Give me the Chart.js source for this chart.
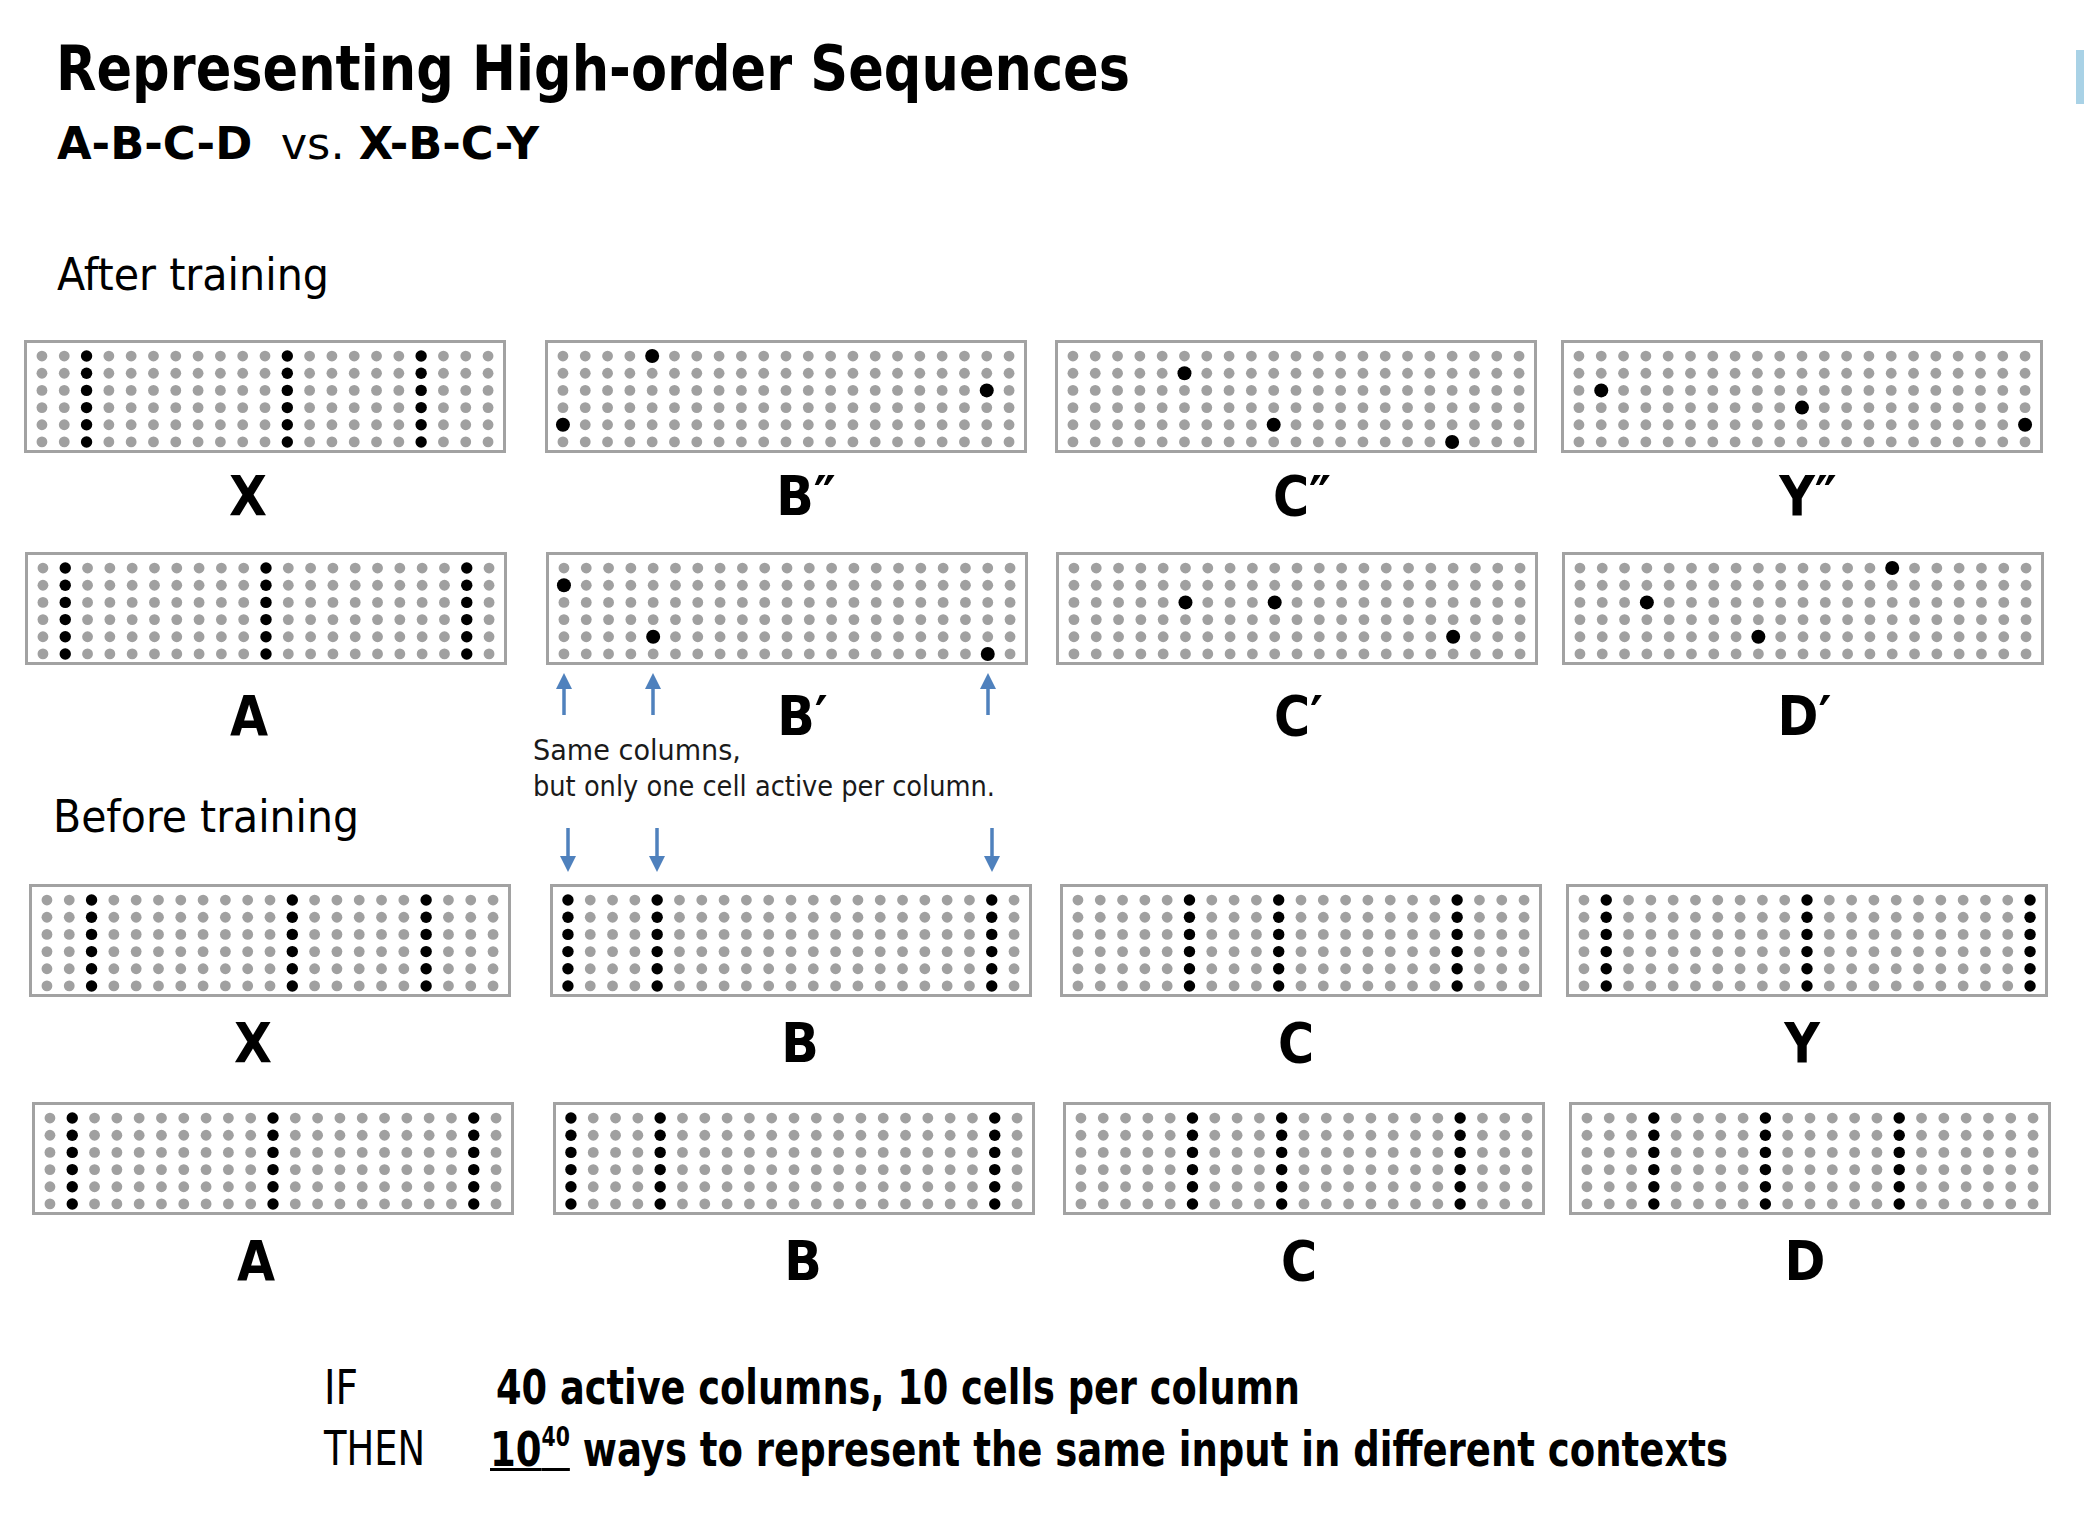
<!DOCTYPE html>
<html>
<head>
<meta charset="utf-8">
<title>Representing High-order Sequences</title>
<script src="https://cdn.jsdelivr.net/npm/chart.js@4.4.1/dist/chart.umd.min.js"></script>
<style>
  html, body { margin: 0; padding: 0; background: #fff; }
  body { position: relative; width: 2084px; height: 1534px; overflow: hidden; font-family: 'DejaVu Sans', Verdana, sans-serif; color: #000; }
  .txt { position: absolute; white-space: nowrap; line-height: 1; transform-origin: 0 0; }
  .panel { position: absolute; box-sizing: border-box; border: 3px solid #a2a2a2; background: #fff; }
  .panel canvas { display: block; }
  .label { position: absolute; font-weight: bold; font-size: 56px; line-height: 1; transform-origin: 50% 0; transform: translateX(-50%) scaleX(0.88); }
  .label .prime { position: absolute; left: 100%; top: 0; }
  .arrow { position: absolute; }
  .edge { position: absolute; left: 2076px; top: 50px; width: 8px; height: 54px; background: #a9d2e6; }
</style>
</head>
<body>
<div class="edge"></div>
<script>
// every panel is a grid of 21 columns x 6 cells
const COLUMNS = 21;
const CELLS = 6;

// active columns of each input
const colsA = [1, 10, 19];
const colsB = [0, 4, 19];
const colsC = [5, 9, 17];
const colsD = [3, 8, 14];
const colsX = [2, 11, 17];
const colsY = [1, 10, 20];

// after training: which cell (row) is active in each active column
const cellsB2 = [4, 0, 2];   // B″
const cellsC2 = [1, 4, 5];   // C″
const cellsY2 = [2, 3, 4];   // Y″
const cellsB1 = [1, 4, 5];   // B′
const cellsC1 = [2, 2, 4];   // C′
const cellsD1 = [2, 4, 0];   // D′

// panel rows top to bottom: [letter, primes, columns, cells] (null cells = whole column active)
const rowAfterX = [['X', '', colsX, null], ['B', '″', colsB, cellsB2], ['C', '″', colsC, cellsC2], ['Y', '″', colsY, cellsY2]];
const rowAfterA = [['A', '', colsA, null], ['B', '′', colsB, cellsB1], ['C', '′', colsC, cellsC1], ['D', '′', colsD, cellsD1]];
const rowBeforeX = [['X', '', colsX, null], ['B', '', colsB, null], ['C', '', colsC, null], ['Y', '', colsY, null]];
const rowBeforeA = [['A', '', colsA, null], ['B', '', colsB, null], ['C', '', colsC, null], ['D', '', colsD, null]];

// layout
const PANEL_W = 482, PANEL_H = 113, BORDER = 3;
const rowTop = [340, 552, 884, 1102];
const rowLeft = [24, 25, 29, 32];
const colShift = [0, 521, 1031, 1537];
const labelBase = [515, 735, 1062, 1280];
const labelShift = [-17, 9, -5, -5];

const addText = (html, left, baseline, size, weight, width) => {
    const el = document.createElement('div');
    el.className = 'txt';
    el.innerHTML = html;
    el.style.fontSize = size + 'px';
    el.style.fontWeight = weight;
    el.style.left = left + 'px';
    el.style.top = (baseline - 0.846 * size) + 'px';
    document.body.appendChild(el);
    if (width) {
        const w = el.getBoundingClientRect().width;
        el.style.transform = `scaleX(${width / w})`;
    }
    return el;
}

const cellData = (cols, cells) => {
    const active = [];
    const grey = [];
    cols.forEach((c, i) => {
        if (cells) active.push({ x: c, y: cells[i] });
        else for (let r = 0; r < CELLS; r++) active.push({ x: c, y: r });
    });
    for (let c = 0; c < COLUMNS; c++) {
        for (let r = 0; r < CELLS; r++) {
            if (!active.some(p => p.x === c && p.y === r)) grey.push({ x: c, y: r });
        }
    }
    return { active, grey };
}

const addPanel = (left, top, cols, cells) => {
    const box = document.createElement('div');
    box.className = 'panel';
    box.style.left = left + 'px';
    box.style.top = top + 'px';
    box.style.width = PANEL_W + 'px';
    box.style.height = PANEL_H + 'px';
    const canvas = document.createElement('canvas');
    canvas.width = PANEL_W - 2 * BORDER;
    canvas.height = PANEL_H - 2 * BORDER;
    box.appendChild(canvas);
    document.body.appendChild(box);

    const { active, grey } = cellData(cols, cells);

    return new Chart(canvas.getContext('2d'), {
        type: 'scatter',
        data: {
            datasets: [{
                data: grey,
                backgroundColor: '#a0a0a0',
                borderWidth: 0,
                pointRadius: 5.4,
            }, {
                data: active,
                backgroundColor: '#000',
                borderWidth: 0,
                pointRadius: cells ? 7 : 5.7,
            }]
        },
        options: {
            responsive: false,
            animation: false,
            events: [],
            layout: { padding: 0, autoPadding: false },
            plugins: { legend: { display: false }, tooltip: { enabled: false } },
            scales: {
                x: { type: 'linear', min: -0.67, max: COLUMNS - 1 + 0.67, display: false },
                y: { type: 'linear', min: -0.76, max: CELLS - 1 + 0.47, reverse: true, display: false }
            }
        }
    });
}

const addLabel = (center, baseline, letter, primes) => {
    const el = document.createElement('div');
    el.className = 'label';
    el.style.left = center + 'px';
    el.style.top = (baseline - 0.846 * 56) + 'px';
    el.innerHTML = `${letter}<span class="prime">${primes}</span>`;
    document.body.appendChild(el);
}

const addArrow = (x, top, height, up) => {
    const head = up
        ? `<polygon points="2,16 18,16 10,0" fill="#4f81bd"/><line x1="10" y1="14" x2="10" y2="${height}" stroke="#4f81bd" stroke-width="3.5"/>`
        : `<polygon points="2,${height - 16} 18,${height - 16} 10,${height}" fill="#4f81bd"/><line x1="10" y1="0" x2="10" y2="${height - 14}" stroke="#4f81bd" stroke-width="3.5"/>`;
    const wrap = document.createElement('div');
    wrap.className = 'arrow';
    wrap.style.left = (x - 10) + 'px';
    wrap.style.top = top + 'px';
    wrap.innerHTML = `<svg width="20" height="${height}">${head}</svg>`;
    document.body.appendChild(wrap);
}

const draw = () => {
    addText('Representing High-order Sequences', 56, 90, 62, 'bold', 1074);
    addText('<b>A-B-C-D</b>&nbsp; vs. <b>X-B-C-Y</b>', 57, 159, 44, 'normal', 482);
    addText('After training', 57, 290, 44, 'normal', 272);
    addText('Before training', 53, 832, 45, 'normal', 306);
    addText('Same columns,', 533, 761, 28, 'normal', 208).style.color = '#1a1a1a';
    addText('but only one cell active per column.', 533, 797, 28, 'normal', 462).style.color = '#1a1a1a';
    addText('IF', 324, 1404, 48, 'normal', 34);
    addText('THEN', 324, 1465, 48, 'normal', 101);
    addText('40 active columns, 10 cells per column', 496, 1404, 48, 'bold', 804);
    addText('<span style="text-decoration: underline; text-decoration-thickness: 3px;">10<sup style="font-size: 0.55em; vertical-align: 0.75em;">40</sup></span> ways to represent the same input in different contexts', 490, 1465, 48, 'bold', 1238);

    const charts = [];
    [rowAfterX, rowAfterA, rowBeforeX, rowBeforeA].forEach((row, r) => {
        charts.push(row.map(([letter, primes, cols, cells], c) => {
            const left = rowLeft[r] + colShift[c];
            addLabel(left + PANEL_W / 2 + labelShift[c], labelBase[r], letter, primes);
            return addPanel(left, rowTop[r], cols, cells);
        }));
    });

    // arrows point at the columns B shares before and after training
    const bAfter = charts[1][1];
    const bBefore = charts[2][1];
    colsB.forEach(col => {
        addArrow(rowLeft[1] + colShift[1] + BORDER + bAfter.scales.x.getPixelForValue(col), 673, 42, true);
        addArrow(rowLeft[2] + colShift[1] + BORDER + bBefore.scales.x.getPixelForValue(col), 828, 44, false);
    });
}

window.onload = () => {
    document.fonts.ready.then(draw);
}
</script>
</body>
</html>
